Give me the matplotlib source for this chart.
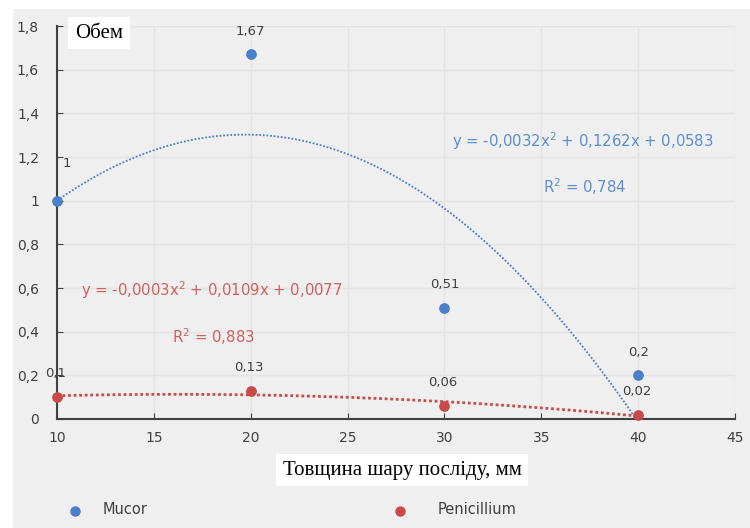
import numpy as np
import matplotlib
matplotlib.use("Agg")
import matplotlib.pyplot as plt
from matplotlib.patches import Rectangle
from matplotlib.lines import Line2D

# data
thickness = [10, 20, 30, 40]
mucor = [1.0, 1.67, 0.51, 0.2]
penicillium = [0.1, 0.13, 0.06, 0.02]
mucor_labels = ["1", "1,67", "0,51", "0,2"]
pen_labels = ["0,1", "0,13", "0,06", "0,02"]
# trendline coefficients as printed on the chart (Mucor)
mucor_coef = [-0.0032, 0.1262, 0.0583]
mucor_eq = "y = -0,0032x$^2$ + 0,1262x + 0,0583"
mucor_r2 = "R$^2$ = 0,784"
pen_eq = "y = -0,0003x$^2$ + 0,0109x + 0,0077"
pen_r2 = "R$^2$ = 0,883"
x_ticks = [10, 15, 20, 25, 30, 35, 40, 45]
y_ticks = [0, 0.2, 0.4, 0.6, 0.8, 1.0, 1.2, 1.4, 1.6, 1.8]

blue = "#4a7fc9"
red = "#c94a48"
blue_txt = "#5b8fd3"
red_txt = "#d0605c"
bg = "#efefef"

fig = plt.figure(figsize=(7.5, 5.28), dpi=100)
fig.add_artist(Rectangle((13 / 750, 0), 1, (528 - 9) / 528, transform=fig.transFigure,
                         facecolor=bg, edgecolor="none", zorder=-5))
ax = fig.add_axes([57 / 750, 109 / 528, 678 / 750, 393 / 528])
ax.set_facecolor(bg)

# polynomial trendlines (2nd order)
xs = np.linspace(10, 40, 200)
ax.plot(xs, np.polyval(mucor_coef, xs), color=blue, lw=1.3, ls=(0, (1, 1)), zorder=2)
pen_coef = np.polyfit(thickness, penicillium, 2)
ax.plot(xs, np.polyval(pen_coef, xs), color=red, lw=2.0, ls=(0, (1, 1)), zorder=2, clip_on=False)

ax.scatter(thickness, mucor, s=45, color=blue, zorder=3, clip_on=False)
ax.scatter(thickness, penicillium, s=45, color=red, zorder=3, clip_on=False)

lab_kw = dict(fontsize=9.5, color="#404040", ha="center", va="bottom", zorder=4)
for i, (x, y) in enumerate(zip(thickness, mucor)):
    if i == 0:
        ax.annotate(mucor_labels[i], (x, y), xytext=(7, 22), textcoords="offset points", **lab_kw)
    else:
        ax.annotate(mucor_labels[i], (x, y), xytext=(0, 12), textcoords="offset points", **lab_kw)
for i, (x, y) in enumerate(zip(thickness, penicillium)):
    ax.annotate(pen_labels[i], (x, y), xytext=(-1, 12), textcoords="offset points", **lab_kw)

eq_kw = dict(fontsize=10.7, ha="center", va="center")
fig.text(583 / 750, (528 - 141) / 528, mucor_eq, color=blue_txt, **eq_kw)
fig.text(585 / 750, (528 - 187) / 528, mucor_r2, color=blue_txt, **eq_kw)
fig.text(212 / 750, (528 - 290) / 528, pen_eq, color=red_txt, **eq_kw)
fig.text(213 / 750, (528 - 337) / 528, pen_r2, color=red_txt, **eq_kw)

ax.set_xlim(10, 45)
ax.set_ylim(0, 1.8)
ax.set_xticks(x_ticks)
ax.set_yticks(y_ticks)
ax.set_yticklabels([f"{v:g}".replace(".", ",") for v in y_ticks])
ax.tick_params(direction="in", length=4, color="#404040", labelcolor="#404040", labelsize=10)
ax.tick_params(axis="y", pad=13)
ax.tick_params(axis="x", pad=9)
ax.grid(True, color="#e4e4e4", lw=1)
ax.set_axisbelow(True)
for side in ["top", "right"]:
    ax.spines[side].set_visible(False)
for side in ["left", "bottom"]:
    ax.spines[side].set_color("#404040")
    ax.spines[side].set_linewidth(1.5)

# axis titles in white boxes
fig.text(75 / 750, (528 - 33) / 528, "Обем", fontsize=15, family="Liberation Serif", ha="left", va="center",
         bbox=dict(facecolor="white", edgecolor="none", pad=5))
fig.text(402 / 750, (528 - 470) / 528, "Товщина шару посліду, мм", fontsize=15, family="Liberation Serif",
         ha="center", va="center", bbox=dict(facecolor="white", edgecolor="none", pad=5))

# legend
for xp, col, name, xt in [(75, blue, "Mucor", 103), (400, red, "Penicillium", 438)]:
    fig.add_artist(Line2D([xp / 750], [(528 - 511) / 528], transform=fig.transFigure,
                          marker="o", markersize=6.5, color=col, ls="none"))
    fig.text(xt / 750, (528 - 509) / 528, name, fontsize=10.5, color="#404040", va="center")

fig.savefig("out.png", dpi=100)
